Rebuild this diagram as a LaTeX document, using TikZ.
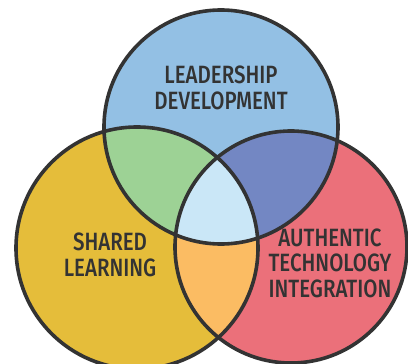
\documentclass[tikz,border=0pt]{standalone}
\usepackage{fontspec}
\setmainfont[FakeStretch=0.82]{Fira Sans Medium}
\usepackage{xcolor}
\usetikzlibrary{positioning}
\definecolor{ldblue}{HTML}{93C0E4}
\definecolor{slyellow}{HTML}{E5BD3A}
\definecolor{atred}{HTML}{EB707A}
\definecolor{mixgreen}{HTML}{9DD295}
\definecolor{mixviolet}{HTML}{7387C3}
\definecolor{mixorange}{HTML}{FBBC63}
\definecolor{mixcenter}{HTML}{CAE7F7}
\definecolor{ink}{HTML}{333333}
\tikzset{%
	ring/.style  = {draw=ink, line width=3.6pt},
	label/.style = {text=ink, align=center, inner sep=0pt, font=\fontsize{25}{25.5}\selectfont},
}

\begin{document}
\begin{tikzpicture}[x=1pt,y=-1pt]
	\useasboundingbox (0,0) rectangle (408,364);
	\coordinate (top) at (221,127);
	\coordinate (left) at (137,248);
	\coordinate (right) at (291,247);
	
	\fill[ldblue] (top) circle (117);
	\fill[slyellow] (left) circle (121);
	\fill[atred] (right) circle (116);
	
	\begin{scope}
		\clip (top) circle (117);
		\fill[mixgreen] (left) circle (121);
		\fill[mixviolet] (right) circle (116);
	\end{scope}
	\begin{scope}
		\clip (left) circle (121);
		\fill[mixorange] (right) circle (116);
		\clip (right) circle (116);
		\fill[mixcenter] (top) circle (117);
	\end{scope}
	
	\draw[ring] (top) circle (117);
	\draw[ring] (left) circle (121);
	\draw[ring] (right) circle (116);
	
	\node[label] (ld) at (221,88) {LEADERSHIP\\DEVELOPMENT};
	\node[label] (sl) at (110,255) {SHARED\\LEARNING};
	\node[label] (at) at (330,263) {AUTHENTIC\\TECHNOLOGY\\INTEGRATION};
\end{tikzpicture}
\end{document}
